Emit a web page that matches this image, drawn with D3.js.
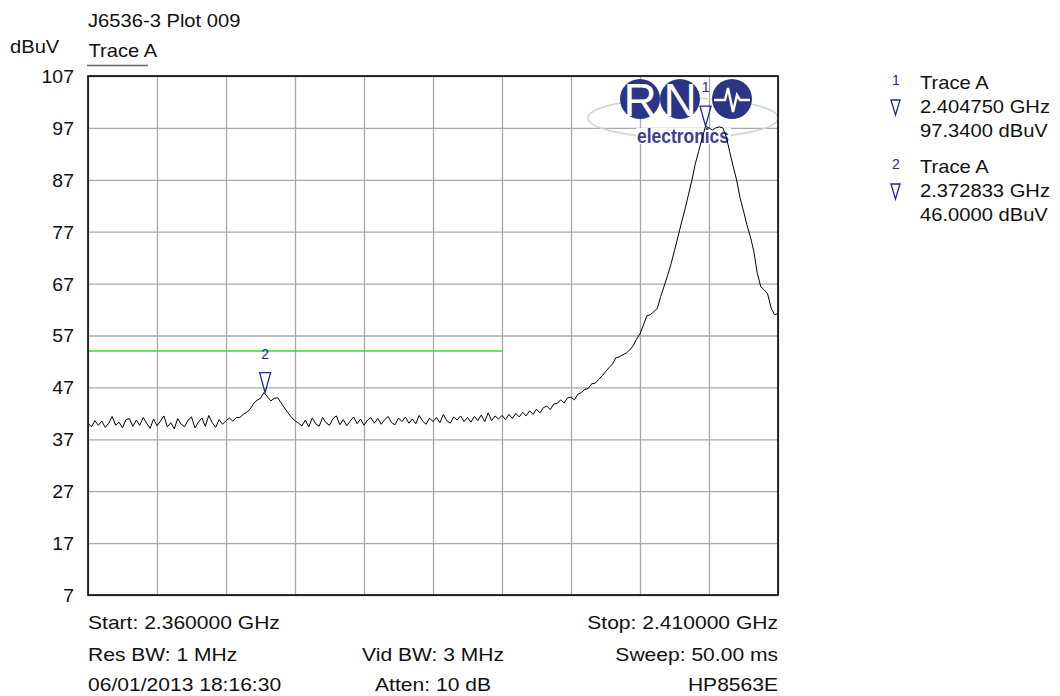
<!DOCTYPE html>
<html><head><meta charset="utf-8">
<script src="https://cdn.jsdelivr.net/npm/d3@7"></script>
<style>body{margin:0;background:#fff}svg{display:block}</style>
</head><body>
<svg id="chart" width="1060" height="696"></svg>
<script>
// ---------- data ----------
const startGHz = 2.360, stopGHz = 2.410;
const yTicks = [7, 17, 27, 37, 47, 57, 67, 77, 87, 97, 107];
const xGrid = [2.360, 2.365, 2.370, 2.375, 2.380, 2.385, 2.390, 2.395, 2.400, 2.405, 2.410];
// Trace A levels (dBuV), sweep points equally spaced from start to stop
const traceA = [
 40.1, 39.4, 40.6, 39.7, 40.5, 39.3, 40.1, 41.4, 39.7, 40.3,
 39.2, 40.8, 41.0, 39.5, 40.7, 39.7, 41.2, 40.1, 39.1, 40.9,
 39.6, 40.5, 41.5, 39.4, 40.2, 39.0, 41.0, 39.9, 39.4, 40.7,
 41.3, 39.2, 40.3, 41.1, 39.5, 41.6, 40.2, 39.3, 40.8, 39.9,
 40.6, 41.1, 40.5, 41.2,
 41.2, 41.8, 42.2, 42.8, 43.9, 44.5, 44.9, 46.0, 45.2, 44.4, 44.9, 45.0, 44.0, 43.0, 42.1, 41.2, 40.6,
 40.1, 39.6, 40.7, 39.4, 41.1, 40.0, 39.5, 41.2, 40.2, 39.7,
 41.0, 41.5, 39.8, 40.8, 39.6, 40.5, 41.3, 40.0, 40.9, 39.7,
 40.7, 41.2, 40.1, 41.0, 39.9, 40.8, 41.4, 40.2, 39.8, 41.1,
 40.4, 41.3, 40.1, 40.9, 40.0, 41.6, 40.5, 39.9, 41.1, 40.4,
 41.2, 40.2, 41.8, 40.6, 40.1, 41.3, 40.7, 41.5, 40.4, 41.2,
 40.3, 41.4, 40.6, 41.7, 40.4, 42.1, 40.6, 41.5, 40.9,
 41.6, 40.8, 41.8, 41.0, 42.0, 41.3, 42.2, 41.5, 42.5, 41.8, 42.8, 42.1, 43.1, 43.4, 42.7, 43.8, 43.9,
 44.6, 44.0, 45.0, 45.1, 44.6, 45.7, 46.0, 46.6, 46.8, 47.7, 47.8, 48.5, 49.2, 50.0, 50.8, 51.5, 52.7, 52.9, 53.3, 53.6,
 54.2, 55.0, 56.3, 57.3, 59.0, 60.8, 61.0, 61.6, 62.2, 64.5,
 66.5, 68.6, 70.8, 73.4, 76.0, 78.7, 81.2, 84.0, 86.8, 90.0,
 92.5, 95.0, 97.3, 97.0, 96.6, 97.0, 97.2, 97.0, 95.3, 92.4,
 89.6, 87.0, 83.5, 81.0, 78.3, 76.0, 73.2, 69.0, 66.4, 65.8,
 65.0, 62.3, 61.0, 61.2
];
// limit line
const limitFreq = [2.360, 2.390];
const limitLevel = [54, 54];
// markers
const markerIds = ["1", "2"];
const markerFreq = [2.404750, 2.372833];
const markerLevel = [97.34, 46.0];
const markerTrace = ["Trace A", "Trace A"];
// annotations
const titleText = "J6536-3 Plot 009";
const unitText = "dBuV";
const traceLabel = "Trace A";
const footLeft = ["Start: 2.360000 GHz", "Res BW: 1 MHz", "06/01/2013 18:16:30"];
const footMid = ["", "Vid BW: 3 MHz", "Atten: 10 dB"];
const footRight = ["Stop: 2.410000 GHz", "Sweep: 50.00 ms", "HP8563E"];

// ---------- layout ----------
const L = 88, R = 778, T = 76, B = 595;
const SX = 1.12, SXF = 1.17;
const FONT = "'Liberation Sans', Arial, sans-serif";
const NAVY = "#1e2a8c";

const svg = d3.select("#chart");
svg.append("rect").attr("width", 1060).attr("height", 696).attr("fill", "#fff");

const x = d3.scaleLinear().domain([startGHz, stopGHz]).range([L, R]);
const y = d3.scaleLinear().domain([7, 107]).range([B, T]);

function txt(px, py, s, anchor, size, color, sx) {
  return svg.append("text")
    .attr("transform", `translate(${px},${py}) scale(${sx || SX},1)`)
    .attr("text-anchor", anchor || "start")
    .style("font-family", FONT).style("font-size", (size || 18) + "px")
    .attr("fill", color || "#111").text(s);
}

// grid
svg.append("g").attr("transform", `translate(0,${B})`)
  .call(d3.axisBottom(x).tickValues(xGrid).tickSize(-(B - T)).tickFormat(""))
  .call(g => g.select(".domain").remove())
  .call(g => g.selectAll("line").attr("stroke", "#a8a8a8").attr("stroke-width", 1.3));
svg.append("g").attr("transform", `translate(${L},0)`)
  .call(d3.axisLeft(y).tickValues(yTicks).tickSize(-(R - L)).tickFormat(""))
  .call(g => g.select(".domain").remove())
  .call(g => g.selectAll("line").attr("stroke", "#a8a8a8").attr("stroke-width", 1.3));

// y tick labels
svg.append("g").attr("transform", `translate(${L},0)`)
  .call(d3.axisLeft(y).tickValues(yTicks).tickSize(0).tickPadding(13).tickFormat(d3.format("d")))
  .call(g => g.select(".domain").remove())
  .call(g => g.selectAll("text").style("font-family", FONT).style("font-size", "18px")
    .attr("fill", "#111").attr("dy", "0.36em").attr("transform", `scale(${SX - 0.04},1)`));

// logo
const logo = svg.append("g");
logo.append("ellipse").attr("cx", 683).attr("cy", 118).attr("rx", 95).attr("ry", 20)
  .attr("fill", "none").attr("stroke", "#c9dccb").attr("stroke-width", 1.6);
const circCx = [640, 680, 732];
logo.selectAll("circle").data(circCx).join("circle")
  .attr("cx", d => d).attr("cy", 99).attr("r", 20).attr("fill", "#2b3585");
logo.append("text").attr("x", 640).attr("y", 116).attr("text-anchor", "middle")
  .style("font-family", FONT).style("font-size", "46px").attr("fill", "#fff").text("R");
logo.append("text").attr("x", 680).attr("y", 116).attr("text-anchor", "middle")
  .style("font-family", FONT).style("font-size", "46px").attr("fill", "#fff").text("N");
logo.append("path").attr("d", "M714,100 L725,100 L728,88 L733,112 L737,95 L740,100 L750,100")
  .attr("fill", "none").attr("stroke", "#fff").attr("stroke-width", 2.4);
logo.append("rect").attr("x", 636).attr("y", 128).attr("width", 95).attr("height", 16).attr("fill", "#fff");
logo.append("text").attr("x", 683).attr("y", 142.5).attr("text-anchor", "middle")
  .attr("textLength", 92).attr("lengthAdjust", "spacingAndGlyphs")
  .style("font-family", FONT).style("font-size", "20px").style("font-weight", "bold")
  .attr("fill", "#3b418f").text("electronics");

// limit line
svg.append("path")
  .attr("d", d3.line().x((d, i) => x(limitFreq[i])).y(d => y(d))(limitLevel))
  .attr("stroke", "#33dd33").attr("stroke-width", 1.6).attr("fill", "none");

// trace
const n = traceA.length;
const fx = i => startGHz + (stopGHz - startGHz) * i / (n - 1);
svg.append("path")
  .attr("d", d3.line().x((d, i) => x(fx(i))).y(d => y(d))(traceA))
  .attr("fill", "none").attr("stroke", "#000").attr("stroke-width", 1);

// frame
svg.append("rect").attr("x", L).attr("y", T).attr("width", R - L).attr("height", B - T)
  .attr("fill", "none").attr("stroke", "#000").attr("stroke-width", 1.6);

// markers
markerIds.forEach((id, i) => {
  const mx = x(markerFreq[i]), my = y(markerLevel[i]);
  svg.append("path").attr("d", `M${mx - 5.5},${my - 20} L${mx + 5.5},${my - 20} L${mx},${my} Z`)
    .attr("fill", "none").attr("stroke", NAVY).attr("stroke-width", 1.3);
  svg.append("text").attr("x", mx).attr("y", my - 34).attr("text-anchor", "middle")
    .style("font-family", FONT).style("font-size", "14px").attr("fill", NAVY).text(id);
});

// legend of markers
markerIds.forEach((id, i) => {
  const by = 89 + i * 84;
  svg.append("text").attr("x", 896).attr("y", by - 4).attr("text-anchor", "middle")
    .style("font-family", FONT).style("font-size", "14px").attr("fill", NAVY).text(id);
  svg.append("path").attr("d", `M${891},${by + 11} L${900},${by + 11} L${895.5},${by + 26} Z`)
    .attr("fill", "none").attr("stroke", NAVY).attr("stroke-width", 1.3);
  txt(920, by, markerTrace[i], "start", 18);
  txt(920, by + 24, d3.format(".6f")(markerFreq[i]) + " GHz", "start", 18);
  txt(920, by + 48, d3.format(".4f")(markerLevel[i]) + " dBuV", "start", 18);
});

// titles
txt(88, 26.5, titleText, "start", 18);
txt(10, 52.5, unitText, "start", 18);
txt(88.5, 57, traceLabel, "start", 18);
svg.append("line").attr("x1", 87).attr("x2", 148).attr("y1", 65.5).attr("y2", 65.5)
  .attr("stroke", "#666").attr("stroke-width", 1.5);

// footer
const footY = [628.5, 660.5, 690.5];
footLeft.forEach((s, i) => txt(L, footY[i], s, "start", 18, "#111", SXF));
footMid.forEach((s, i) => { if (s) txt(x(2.385), footY[i], s, "middle", 18, "#111", SXF); });
footRight.forEach((s, i) => txt(R, footY[i], s, "end", 18, "#111", SXF));
</script>
</body></html>
